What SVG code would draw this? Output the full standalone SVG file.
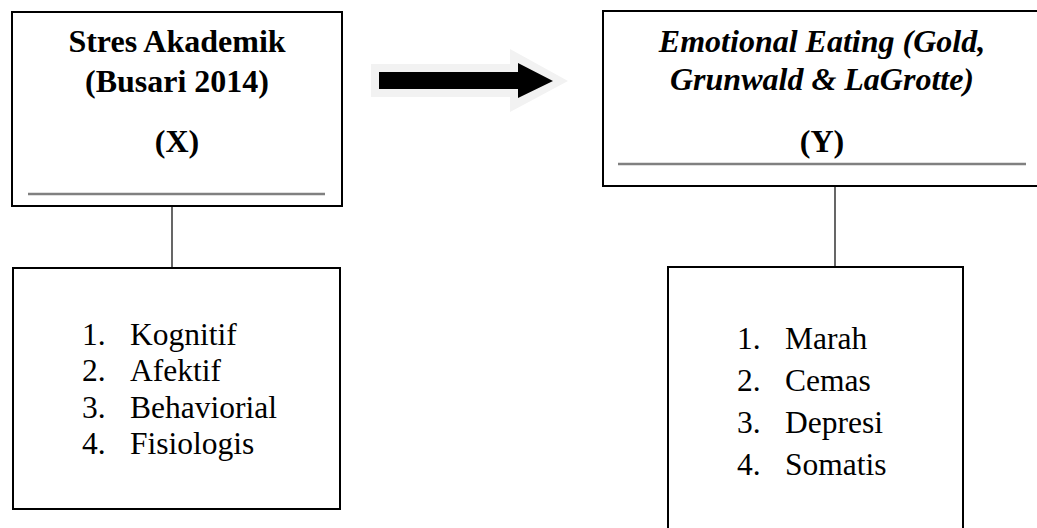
<svg xmlns="http://www.w3.org/2000/svg" width="1037" height="528" viewBox="0 0 1037 528">
<style>
.box{fill:#fff;stroke:#000;stroke-width:2}
.sep{stroke:#808080;stroke-width:2.5}
.t{font-family:"Liberation Serif","Times New Roman",serif;font-size:32px;fill:#000}
.b{font-weight:bold}
.bi{font-weight:bold;font-style:italic}
.li{font-family:"Liberation Serif","Times New Roman",serif;font-size:31.5px;fill:#000}
.conn{stroke:#000;stroke-width:1.2;fill:none}
</style>
<rect width="1037" height="528" fill="#fff"/>
<g id="connectors">
<line class="conn" x1="172" y1="206" x2="172" y2="268"/>
<line class="conn" x1="835" y1="186" x2="835" y2="267"/>
<polygon points="371,64 510,64 510,49 568,81 510,112 510,97 371,97" fill="#f2f2f2"/>
<polygon points="379,72 518,72 518,63 553,81 518,98 518,89 379,89" fill="#000"/>
</g>
<g id="nodeX">
<rect class="box" x="12" y="12" width="330" height="194"/>
<line class="sep" x1="28" y1="194" x2="325" y2="194"/>
<text class="t b" x="177" y="52" text-anchor="middle">Stres Akademik</text>
<text class="t b" x="177" y="92" text-anchor="middle">(Busari 2014)</text>
<text class="t b" x="177" y="152" text-anchor="middle">(X)</text>
</g>
<g id="nodeY">
<rect class="box" x="603" y="11" width="440" height="175"/>
<line class="sep" x1="618" y1="164" x2="1026" y2="164"/>
<text class="t bi" x="822" y="52" text-anchor="middle">Emotional Eating (Gold,</text>
<text class="t bi" x="822" y="90" text-anchor="middle">Grunwald &amp; LaGrotte)</text>
<text class="t b" x="822" y="152" text-anchor="middle">(Y)</text>
</g>
<g id="nodeXind">
<rect class="box" x="13" y="268" width="327" height="241"/>
<text class="li" x="82" y="345">1.</text><text class="li" x="130" y="345">Kognitif</text>
<text class="li" x="82" y="381">2.</text><text class="li" x="130" y="381">Afektif</text>
<text class="li" x="82" y="418">3.</text><text class="li" x="130" y="418">Behaviorial</text>
<text class="li" x="82" y="454">4.</text><text class="li" x="130" y="454">Fisiologis</text>
</g>
<g id="nodeYind">
<rect class="box" x="668" y="267" width="295" height="275"/>
<text class="li" x="737" y="349">1.</text><text class="li" x="785" y="349">Marah</text>
<text class="li" x="737" y="391">2.</text><text class="li" x="785" y="391">Cemas</text>
<text class="li" x="737" y="433">3.</text><text class="li" x="785" y="433">Depresi</text>
<text class="li" x="737" y="475">4.</text><text class="li" x="785" y="475">Somatis</text>
</g>
</svg>
